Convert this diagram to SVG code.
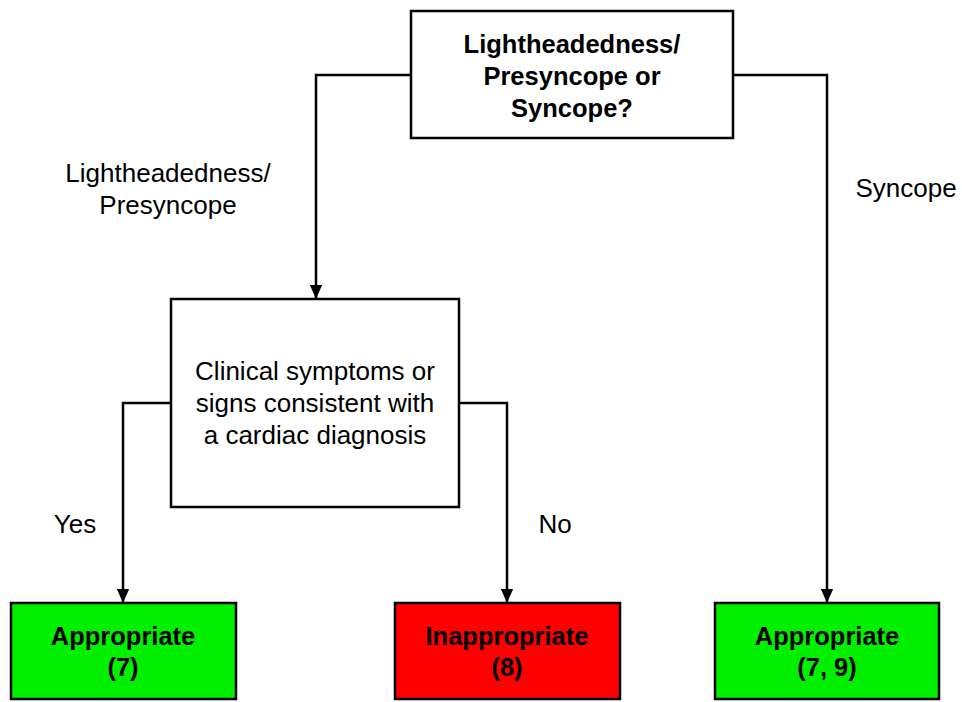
<svg xmlns="http://www.w3.org/2000/svg" width="962" height="702" viewBox="0 0 962 702">
  <style>
    .box { stroke: #000; stroke-width: 2.5; }
    .plain { fill: #fff; }
    .ok { fill: #00f000; }
    .bad { fill: #ff0000; }
    .wire { fill: none; stroke: #000; stroke-width: 2.5; marker-end: url(#arrow); }
    text { font-family: "Liberation Sans", Arial, sans-serif; font-size: 26px; fill: #000; text-anchor: middle; }
    .b { font-weight: bold; font-size: 25.5px; }
  </style>
  <defs>
    <!-- filled triangular arrowhead, tip at the end of the path -->
    <marker id="arrow" markerUnits="userSpaceOnUse" markerWidth="14" markerHeight="16" viewBox="0 0 16 14" refX="16" refY="7" orient="auto">
      <path d="M0,0 L16,7 L0,14 Z" fill="#000"/>
    </marker>
  </defs>

  <!-- connectors -->
  <g id="connectors">
    <path class="wire" d="M411,75 H316 V299"/>
    <path class="wire" d="M733,75 H827 V603"/>
    <path class="wire" d="M171,403 H123 V603"/>
    <path class="wire" d="M459,403 H507 V603"/>
  </g>

  <!-- branch labels -->
  <g id="labels">
    <text x="168" y="182">Lightheadedness/</text>
    <text x="168" y="214">Presyncope</text>
    <text x="906" y="197">Syncope</text>
    <text x="75" y="533">Yes</text>
    <text x="555" y="533">No</text>
  </g>

  <g id="question">
    <rect class="box plain" x="411" y="11" width="322" height="127"/>
    <text class="b" x="572" y="53">Lightheadedness/</text>
    <text class="b" x="572" y="85">Presyncope or</text>
    <text class="b" x="572" y="117">Syncope?</text>
  </g>

  <g id="clinical">
    <rect class="box plain" x="171" y="299" width="288" height="208"/>
    <text x="315" y="380">Clinical symptoms or</text>
    <text x="315" y="412">signs consistent with</text>
    <text x="315" y="444">a cardiac diagnosis</text>
  </g>

  <g id="appropriate-7">
    <rect class="box ok" x="11" y="603" width="225" height="96"/>
    <text class="b" x="123" y="645">Appropriate</text>
    <text class="b" x="123" y="676">(7)</text>
  </g>

  <g id="inappropriate-8">
    <rect class="box bad" x="395" y="603" width="225" height="96"/>
    <text class="b" x="507" y="645">Inappropriate</text>
    <text class="b" x="507" y="676">(8)</text>
  </g>

  <g id="appropriate-7-9">
    <rect class="box ok" x="715" y="603" width="224" height="96"/>
    <text class="b" x="827" y="645">Appropriate</text>
    <text class="b" x="827" y="676">(7, 9)</text>
  </g>
</svg>
